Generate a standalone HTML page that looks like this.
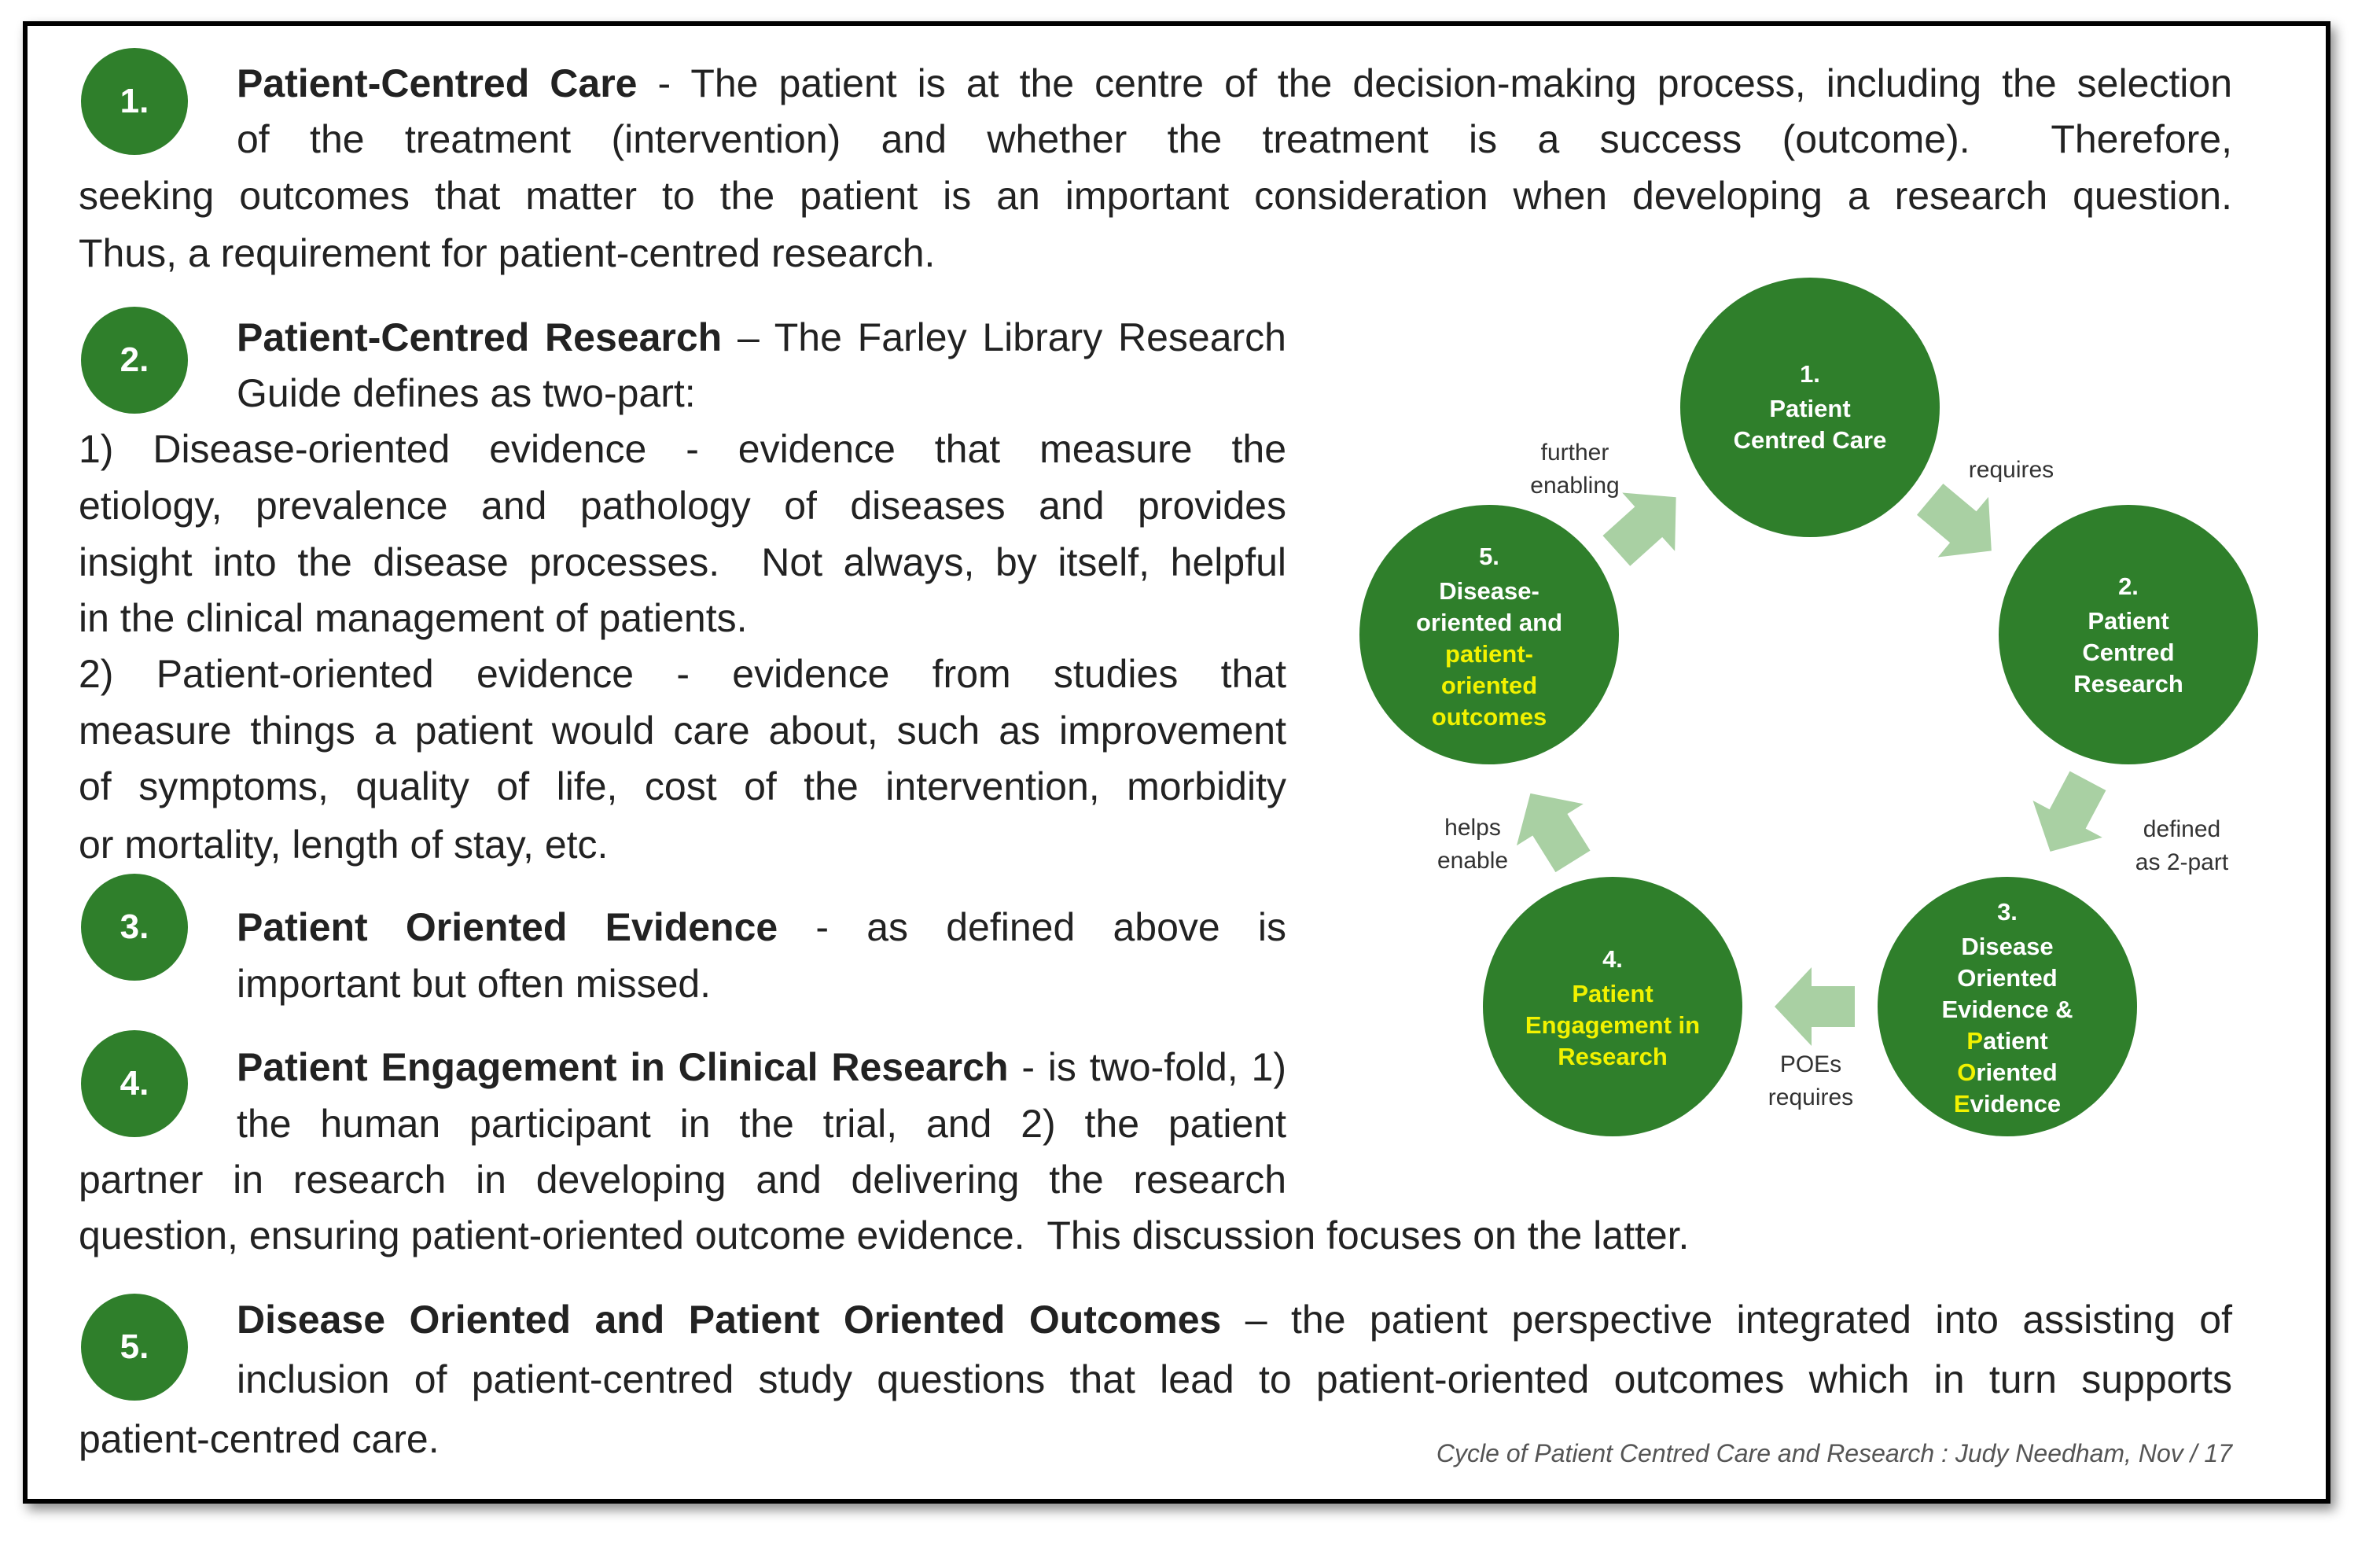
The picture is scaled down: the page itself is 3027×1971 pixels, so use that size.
<!DOCTYPE html>
<html><head><meta charset="utf-8"><style>
body{margin:0;width:3027px;height:1971px;background:#fff;position:relative;overflow:hidden;font-family:"Liberation Sans",sans-serif;color:#222}
.frame{position:absolute;left:29px;top:27px;width:2923px;height:1873px;border:6px solid #000;box-shadow:6px 8px 14px rgba(0,0,0,.45);background:#fff}
.b{position:absolute;width:136px;height:136px;border-radius:50%;background:#2f7f2b;color:#fff;font-weight:bold;font-size:44px;line-height:136px;text-align:center;left:103px}
.l{position:absolute;font-size:50px;line-height:72px;height:72px;white-space:nowrap;overflow:visible}
.j{text-align:justify;text-align-last:justify;white-space:normal}
</style></head><body>
<div class="frame"></div>
<div class="b" style="top:61px">1.</div>
<div class="b" style="top:390px">2.</div>
<div class="b" style="top:1111px">3.</div>
<div class="b" style="top:1310px">4.</div>
<div class="b" style="top:1645px">5.</div>

<div class="l j" style="left:301px;width:2538px;top:70px"><b>Patient-Centred Care</b> - The patient is at the centre of the decision-making process, including the selection</div>
<div class="l j" style="left:301px;width:2538px;top:141px">of the treatment (intervention) and whether the treatment is a success (outcome). &nbsp;Therefore,</div>
<div class="l j" style="left:100px;width:2739px;top:213px">seeking outcomes that matter to the patient is an important consideration when developing a research question.</div>
<div class="l" style="left:100px;top:286px">Thus, a requirement for patient-centred research.</div>

<div class="l j" style="left:301px;width:1335px;top:393px"><b>Patient-Centred Research</b> – The Farley Library Research</div>
<div class="l" style="left:301px;top:464px">Guide defines as two-part:</div>
<div class="l j" style="left:100px;width:1536px;top:535px">1) Disease-oriented evidence - evidence that measure the</div>
<div class="l j" style="left:100px;width:1536px;top:607px">etiology, prevalence and pathology of diseases and provides</div>
<div class="l j" style="left:100px;width:1536px;top:679px">insight into the disease processes. &nbsp;Not always, by itself, helpful</div>
<div class="l" style="left:100px;top:750px">in the clinical management of patients.</div>
<div class="l j" style="left:100px;width:1536px;top:821px">2) Patient-oriented evidence - evidence from studies that</div>
<div class="l j" style="left:100px;width:1536px;top:893px">measure things a patient would care about, such as improvement</div>
<div class="l j" style="left:100px;width:1536px;top:964px">of symptoms, quality of life, cost of the intervention, morbidity</div>
<div class="l" style="left:100px;top:1038px">or mortality, length of stay, etc.</div>

<div class="l j" style="left:301px;width:1335px;top:1143px"><b>Patient Oriented Evidence</b> - as defined above is</div>
<div class="l" style="left:301px;top:1215px">important but often missed.</div>

<div class="l j" style="left:301px;width:1335px;top:1321px"><b>Patient Engagement in Clinical Research</b> - is two-fold, 1)</div>
<div class="l j" style="left:301px;width:1335px;top:1393px">the human participant in the trial, and 2) the patient</div>
<div class="l j" style="left:100px;width:1536px;top:1464px">partner in research in developing and delivering the research</div>
<div class="l" style="left:100px;top:1535px">question, ensuring patient-oriented outcome evidence. &nbsp;This discussion focuses on the latter.</div>

<div class="l j" style="left:301px;width:2538px;top:1642px"><b>Disease Oriented and Patient Oriented Outcomes</b> – the patient perspective integrated into assisting of</div>
<div class="l j" style="left:301px;width:2538px;top:1718px">inclusion of patient-centred study questions that lead to patient-oriented outcomes which in turn supports</div>
<div class="l" style="left:100px;top:1794px">patient-centred care.</div>
<div style="position:absolute;right:188px;top:1830px;font-size:32px;font-style:italic;color:#555">Cycle of Patient Centred Care and Research : Judy Needham, Nov / 17</div>

<svg style="position:absolute;left:0;top:0" width="3027" height="1971" font-family="Liberation Sans, sans-serif">
<defs><path id="ar" d="M-50,-26 L5,-26 L5,-50 L52,0 L5,50 L5,26 L-50,26 Z" fill="#a9d0a3"/></defs>
<use href="#ar" transform="translate(2093,667) rotate(-42)"/>
<use href="#ar" transform="translate(2493,667) rotate(40)"/>
<use href="#ar" transform="translate(2632,1037) rotate(118)"/>
<use href="#ar" transform="translate(2309,1280) rotate(180)"/>
<use href="#ar" transform="translate(1974,1053) rotate(238)"/>
<g fill="#2f7f2b">
<circle cx="2302" cy="518" r="165"/><circle cx="2707" cy="807" r="165"/>
<circle cx="2553" cy="1280" r="165"/><circle cx="2051" cy="1280" r="165"/>
<circle cx="1894" cy="807" r="165"/></g>
<g fill="#fff" font-weight="bold" font-size="31" text-anchor="middle">
<text x="2302" y="486">1.</text><text x="2302" y="530">Patient</text><text x="2302" y="570">Centred Care</text>
<text x="2707" y="756">2.</text><text x="2707" y="800">Patient</text><text x="2707" y="840">Centred</text><text x="2707" y="880">Research</text>
<text x="2553" y="1170">3.</text><text x="2553" y="1214">Disease</text><text x="2553" y="1254">Oriented</text><text x="2553" y="1294">Evidence &amp;</text>
<text x="2553" y="1334"><tspan fill="#f2f200">P</tspan>atient</text><text x="2553" y="1374"><tspan fill="#f2f200">O</tspan>riented</text><text x="2553" y="1414"><tspan fill="#f2f200">E</tspan>vidence</text>
<text x="2051" y="1230">4.</text><text x="2051" y="1274" fill="#f2f200">Patient</text><text x="2051" y="1314" fill="#f2f200">Engagement in</text><text x="2051" y="1354" fill="#f2f200">Research</text>
<text x="1894" y="718">5.</text><text x="1894" y="762">Disease-</text><text x="1894" y="802">oriented and</text>
<text x="1894" y="842" fill="#f2f200">patient-</text><text x="1894" y="882" fill="#f2f200">oriented</text><text x="1894" y="922" fill="#f2f200">outcomes</text>
</g>
<g fill="#333" font-size="30" text-anchor="middle">
<text x="2003" y="585">further</text><text x="2003" y="627">enabling</text>
<text x="2558" y="607">requires</text>
<text x="2775" y="1064">defined</text><text x="2775" y="1106">as 2-part</text>
<text x="2303" y="1363">POEs</text><text x="2303" y="1405">requires</text>
<text x="1873" y="1062">helps</text><text x="1873" y="1104">enable</text>
</g>
</svg>
</body></html>
